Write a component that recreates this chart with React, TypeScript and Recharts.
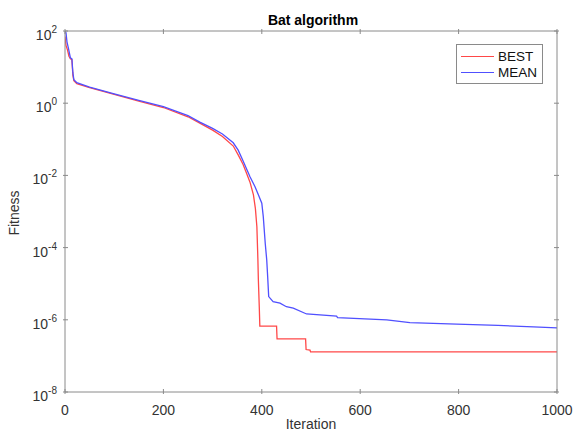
import { LineChart, Line, XAxis, YAxis, Legend, Label } from 'recharts'

const bestIter = [0, 2, 5, 8, 11, 14, 16, 18, 24, 50, 100, 150, 200, 250, 274, 300, 320, 342, 352, 362, 369, 376, 383, 387, 390, 392, 393, 395, 396, 430, 431, 489, 490, 498, 499, 1000]
const bestFitness = [70, 40, 30, 20, 17, 16, 6, 4.2, 3.5, 2.7, 1.75, 1.15, 0.76, 0.42, 0.28, 0.18, 0.12, 0.065, 0.037, 0.02, 0.0115, 0.0065, 0.0029, 0.0012, 3.8e-4, 5e-5, 1.3e-5, 2e-6, 6.7e-7, 6.7e-7, 2.95e-7, 2.95e-7, 1.5e-7, 1.45e-7, 1.3e-7, 1.3e-7]

const meanIter = [0, 2, 4, 7, 11, 14, 16, 18, 24, 50, 100, 150, 200, 250, 274, 300, 320, 342, 352, 362, 376, 386, 393, 400, 403, 407, 410, 412, 414, 423, 437, 450, 464, 491, 552, 554, 654, 701, 796, 880, 952, 1000]
const meanFitness = [100, 90, 50, 33, 18, 17, 7, 4.5, 3.7, 2.8, 1.8, 1.2, 0.8, 0.45, 0.3, 0.2, 0.14, 0.08, 0.05, 0.025, 0.0092, 0.0049, 0.0029, 0.0017, 7.2e-4, 1.3e-4, 4.6e-5, 1.5e-5, 4.4e-6, 3.2e-6, 2.9e-6, 2.3e-6, 2.1e-6, 1.45e-6, 1.26e-6, 1.15e-6, 1.0e-6, 8.3e-7, 7.6e-7, 7e-7, 6.4e-7, 6e-7]

const xTicks = [0, 200, 400, 600, 800, 1000]
const yTicks = [1e-8, 1e-6, 1e-4, 1e-2, 1, 100]

const seriesNames = ['BEST', 'MEAN']
const seriesColors = ['#ff4848', '#5050ff']

const bestData = bestIter.map((x, i) => ({ x, y: bestFitness[i] }))
const meanData = meanIter.map((x, i) => ({ x, y: meanFitness[i] }))

const FONT = '"Liberation Sans", Arial, sans-serif'
const AXIS = '#8a8a8a'
const TEXT = '#333'

// matlab style: ticks point inward, labels outside
const XTick = ({ x, y, payload }: any) => (
  <g>
    <line x1={x} y1={y} x2={x} y2={y - 5} stroke={AXIS} />
    <text x={x} y={y + 21} textAnchor="middle" fontSize={14} fill={TEXT} fontFamily={FONT}>
      {payload.value}
    </text>
  </g>
)

const YTick = ({ x, y, payload }: any) => {
  const exp = Math.round(Math.log10(payload.value))
  return (
    <g>
      <line x1={x} y1={y} x2={x + 5} y2={y} stroke={AXIS} />
      <text x={x - 6} y={y + 9} textAnchor="end" fontSize={14} fill={TEXT} fontFamily={FONT}>
        <tspan>10</tspan>
        <tspan dy={-7} fontSize={10}>{exp}</tspan>
      </text>
    </g>
  )
}

const TopTick = ({ x, y }: any) => <line x1={x} y1={y} x2={x} y2={y + 5} stroke={AXIS} />
const RightTick = ({ x, y }: any) => <line x1={x} y1={y} x2={x - 5} y2={y} stroke={AXIS} />

const LegendBox = () => (
  <div style={{ border: `1px solid ${AXIS}`, background: '#fff', padding: '3px 4px', fontFamily: FONT, fontSize: 13.5, color: '#111' }}>
    {seriesNames.map((n, i) => (
      <div key={n} style={{ display: 'flex', alignItems: 'center', height: 16 }}>
        <span style={{ display: 'inline-block', width: 33, height: 0, borderTop: `1.5px solid ${seriesColors[i]}`, marginRight: 4 }} />
        {n}
      </div>
    ))}
  </div>
)

export default function App() {
  return (
    <div style={{ position: 'absolute', left: 0, top: 0, fontFamily: FONT }}>
      <LineChart width={577} height={435} margin={{ top: 30, right: 19, bottom: 0, left: 0 }}>
        <XAxis
          dataKey="x"
          type="number"
          domain={[0, 1000]}
          ticks={xTicks}
          height={43}
          tickLine={false}
          tickSize={0}
          tick={XTick}
          axisLine={{ stroke: AXIS }}
          allowDataOverflow
        >
          <Label
            content={() => (
              <text x={311} y={429} textAnchor="middle" fontSize={14} fill={TEXT} fontFamily={FONT}>
                Iteration
              </text>
            )}
          />
        </XAxis>
        <XAxis
          xAxisId="top"
          dataKey="x"
          orientation="top"
          type="number"
          domain={[0, 1000]}
          ticks={xTicks}
          height={1}
          tickLine={false}
          tickSize={0}
          tick={TopTick}
          axisLine={{ stroke: AXIS }}
          allowDataOverflow
        >
          <Label
            content={() => (
              <text x={313} y={25} textAnchor="middle" fontSize={14} fontWeight="bold" fill="#000" fontFamily={FONT}>
                Bat algorithm
              </text>
            )}
          />
        </XAxis>
        <YAxis
          scale="log"
          domain={[1e-8, 100]}
          ticks={yTicks}
          width={65}
          tickLine={false}
          tickSize={0}
          tick={YTick}
          axisLine={{ stroke: AXIS }}
          allowDataOverflow
        >
          <Label
            content={() => (
              <text x={19} y={213} transform="rotate(-90 19 213)" textAnchor="middle" fontSize={14} fill={TEXT} fontFamily={FONT}>
                Fitness
              </text>
            )}
          />
        </YAxis>
        <YAxis
          yAxisId="right"
          orientation="right"
          scale="log"
          domain={[1e-8, 100]}
          ticks={yTicks}
          width={1}
          tickLine={false}
          tickSize={0}
          tick={RightTick}
          axisLine={{ stroke: AXIS }}
          allowDataOverflow
        />
        <Legend
          layout="vertical"
          align="center"
          verticalAlign="middle"
          content={LegendBox}
          wrapperStyle={{ left: 456, top: 44, width: 87 }}
        />
        {/* invisible series so the top/right frame axes get drawn */}
        <Line data={meanData} dataKey="y" xAxisId="top" yAxisId="right" stroke="none" dot={false} legendType="none" activeDot={false} isAnimationActive={false} />
        <Line data={bestData} dataKey="y" name="BEST" type="linear" stroke={seriesColors[0]} strokeWidth={1.3} dot={false} isAnimationActive={false} />
        <Line data={meanData} dataKey="y" name="MEAN" type="linear" stroke={seriesColors[1]} strokeWidth={1.3} dot={false} isAnimationActive={false} />
      </LineChart>
    </div>
  )
}
